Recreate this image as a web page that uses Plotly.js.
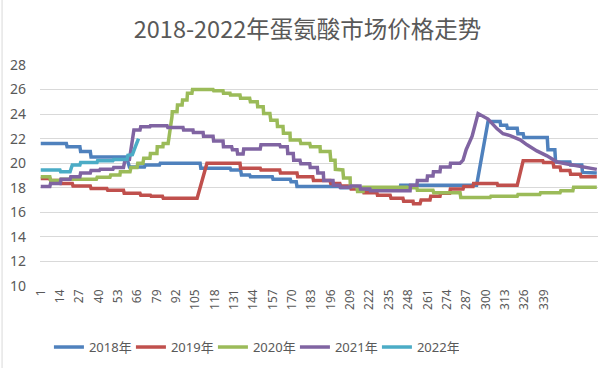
<!DOCTYPE html>
<html><head><meta charset="utf-8">
<script src="https://cdn.plot.ly/plotly-3.0.1.min.js"></script>
<style>html,body{margin:0;padding:0;background:#fff;}#chart{position:absolute;left:0;top:0;width:615px;height:374px;}</style>
</head><body><div id="chart"></div>
<script>
const seriesNames = ['2018年','2019年','2020年','2021年','2022年'];
const colors = ['#4F81BD','#C0504D','#9BBB59','#8064A2','#4BACC6'];
const tickDays = [1,14,27,40,53,66,79,92,105,118,131,144,157,170,183,196,209,222,235,248,261,274,287,300,313,326,339];

const day2018 = [1,18.2,18.7,27.3,27.8,34.3,34.8,58.6,60.6,70.7,71.2,80.8,81.3,108.1,108.6,128.3,128.8,135.3,135.9,141.4,141.9,156.6,157.1,168.7,169.2,172.7,173.2,202,202.5,215.1,215.7,242.4,242.9,293.9,301.6,309.7,310.1,314.1,314.6,321.2,321.7,325.2,325.7,341.4,341.9,346.5,347,356.6,357.1,364.6,365.1,374.7];
const val2018 = [21.6,21.6,21.35,21.35,20.95,20.95,20.5,20.5,19.7,19.7,19.85,19.85,20.0,20.0,19.6,19.6,19.45,19.45,19.05,19.05,18.9,18.9,18.7,18.7,18.5,18.5,18.1,18.1,18.0,18.0,17.85,17.85,18.2,18.2,23.4,23.4,23.1,23.1,22.85,22.85,22.4,22.4,22.1,22.1,21.1,21.1,20.1,20.1,19.85,19.85,19.25,19.2];

const day2019 = [1,7.1,7.6,14.1,14.6,22.2,22.7,34.3,34.8,45.4,46,56.6,57.1,67.7,68.2,74.7,75.2,82.8,83.3,106.1,112.7,134.9,135.3,148.5,149,161.6,162.1,173.2,173.7,183.8,184.3,195.4,195.9,202,202.5,209.1,209.6,217.6,218.2,226.9,227.3,235.8,236.4,244.4,244.9,251.2,251.5,255.9,256.6,262.6,263.1,269.3,269.7,275.8,276.3,284.8,285.3,291.5,291.9,307.7,308.1,321.2,325.2,338.4,338.9,345.3,345.8,350,350.5,356.6,357.1,363.6,364.1,374.7];
const val2019 = [18.75,18.75,18.6,18.6,18.35,18.35,18.15,18.15,17.95,17.95,17.8,17.8,17.55,17.55,17.4,17.4,17.3,17.3,17.15,17.15,20.0,20.0,19.6,19.6,19.45,19.45,19.2,19.2,18.9,18.9,18.6,18.6,18.35,18.35,18.15,18.15,17.9,17.9,17.6,17.6,17.4,17.4,17.15,17.15,16.9,16.9,16.7,16.7,17.0,17.0,17.3,17.3,17.55,17.55,17.9,17.9,18.1,18.1,18.35,18.35,18.2,18.2,20.2,20.2,20.05,20.05,19.7,19.7,19.4,19.4,19.1,19.1,18.9,18.9];

const day2020 = [1,7.1,7.6,14.1,14.6,38.4,38.9,47.5,48,54.2,54.5,61,61.6,65.7,66.2,69.7,70.2,74.4,74.7,79.1,79.3,83.1,83.3,86.6,89.2,89.4,92.6,92.9,96,96.3,99.3,99.6,102.6,103,116.8,117.2,123.5,123.8,128.2,128.5,134.9,135.3,141.4,141.9,146.5,146.8,150.5,150.8,155,155.6,159.8,160.1,163.8,164.1,168.5,168.7,175.2,175.8,181.8,182.3,188.7,188.9,195.4,195.9,198.8,199,204,204.5,208.9,209.1,213.5,213.9,217.6,218,247.2,247.5,253.8,254.1,264.6,265.1,282.8,283.3,303,303.5,321.2,321.7,336.4,336.9,350,350.5,358.6,359.1,374.7];
const val2020 = [18.9,18.9,18.6,18.6,18.7,18.7,18.85,18.85,19.05,19.05,19.3,19.3,19.65,19.65,20.0,20.0,20.4,20.4,20.8,20.8,21.35,21.35,21.6,21.6,23.8,24.2,24.2,24.75,24.75,25.15,25.15,25.7,25.7,26.0,26.0,25.9,25.9,25.7,25.7,25.55,25.55,25.3,25.3,25.0,25.0,24.6,24.6,24.05,24.05,23.5,23.5,23.0,23.0,22.45,22.45,21.9,21.9,21.6,21.6,21.35,21.35,20.95,20.95,20.25,20.25,19.5,19.45,18.8,18.8,18.1,18.1,17.7,17.7,18.05,18.05,18.0,18.0,17.8,17.8,17.6,17.6,17.2,17.2,17.3,17.3,17.45,17.45,17.6,17.6,17.75,17.75,18.05,18.05];

const day2021 = [1,7.1,7.6,14.1,14.6,20.7,21.2,27.3,27.8,34.3,34.8,40.4,40.9,49.5,50,56.6,57.6,60.6,62.6,63.6,67.7,68.2,74.4,74.7,85.9,86.4,96.6,97,103.3,103.6,110.1,110.4,116.8,117.2,123.5,123.8,129.3,129.8,132.9,133.3,137,137.4,148.5,149,161.6,162.1,166.7,167,170.7,171,175.2,175.8,181.8,182.1,186.9,187.2,190.9,191.2,197.4,197.7,202,202.3,209.1,209.4,215.6,215.9,222.2,222.5,249.2,249.5,253.8,254.1,260.6,260.9,264.6,264.9,269.3,269.7,276.1,276.4,282.8,284.8,286.9,290.9,294.9,297.6,301.6,307.7,311.7,316.4,323.2,327.8,334.4,341.2,348,356.6,365.5,374.7];
const val2021 = [18.1,18.1,18.35,18.35,18.7,18.7,18.9,18.9,19.2,19.2,19.4,19.4,19.5,19.5,19.65,19.65,20.25,20.3,21.9,22.7,22.7,22.98,22.98,23.05,23.05,22.9,22.9,22.7,22.7,22.5,22.5,22.2,22.2,21.8,21.8,21.35,21.35,21.1,21.1,20.75,20.75,21.15,21.15,21.5,21.5,21.35,21.35,20.8,20.8,20.25,20.25,19.95,19.95,19.65,19.65,19.2,19.2,18.6,18.6,18.2,18.2,18.05,18.05,18.15,18.15,17.9,17.9,17.75,17.75,18.2,18.2,18.6,18.6,18.95,18.95,19.3,19.3,19.7,19.7,20.0,20.0,20.25,21.1,22.2,24.05,23.9,23.6,22.8,22.4,22.25,21.9,21.5,21.0,20.6,20.1,19.9,19.7,19.5];

const day2022 = [1,13.9,14.4,20.7,22.2,27.3,27.8,38.8,39.2,49.5,50,59,59.6,62.6,64.6,66.7];
const val2022 = [19.45,19.45,19.3,19.3,19.85,19.85,20.05,20.05,20.2,20.2,20.3,20.3,20.65,20.7,21.35,22.0];

const days = [day2018, day2019, day2020, day2021, day2022];
const vals = [val2018, val2019, val2020, val2021, val2022];

const fam = 'Noto Sans, Noto Sans CJK SC, sans-serif';
const traces = seriesNames.map((n, i) => ({
  type: 'scatter', mode: 'lines', name: n,
  x: days[i], y: vals[i],
  line: {color: colors[i], width: 3.5, shape: 'linear'}
}));

const layout = {
  width: 615, height: 374,
  margin: {l: 40, r: 17, t: 65, b: 88},
  paper_bgcolor: '#fff', plot_bgcolor: '#fff',
  title: {text: '2018-2022年蛋氨酸市场价格走势', x: 0.5, xanchor: 'center', xref: 'container', y: 0.92, yanchor: 'middle',
          font: {family: 'Noto Sans CJK SC, sans-serif', size: 23.5, color: '#595959'}},
  xaxis: {type: 'linear', range: [0.5, 375.5], tickmode: 'array', tickvals: tickDays, ticktext: tickDays.map(String),
          tickangle: -90, showgrid: false, zeroline: false, showline: false, automargin: false,
          tickfont: {family: fam, size: 12, color: '#595959'}},
  yaxis: {range: [10, 28], dtick: 2, tick0: 10, showgrid: true, gridcolor: '#d9d9d9', gridwidth: 1,
          zeroline: false, showline: false, ticklabelstandoff: 13,
          tickfont: {family: fam, size: 14, color: '#595959'}},
  showlegend: true,
  legend: {orientation: 'h', x: 0.016, xanchor: 'left', y: 0.072, yref: 'container', yanchor: 'middle',
           entrywidth: 37, entrywidthmode: 'pixels', traceorder: 'normal',
           font: {family: fam, size: 13, color: '#595959'}},
  annotations: [{text: '饲料巴巴', xref: 'paper', yref: 'container', x: 1.0, xanchor: 'right', y: 0.072, yanchor: 'middle',
                 showarrow: false, font: {family: 'Noto Sans CJK SC, sans-serif', size: 14, color: '#7f7f7f'},
                 bgcolor: 'rgba(255,255,255,0.6)'}],
  shapes: [{type: 'line', xref: 'paper', yref: 'paper', x0: -0.068, x1: -0.068, y0: -0.371, y1: 1.294,
            line: {color: '#d9d9d9', width: 1}}]
};
Plotly.newPlot('chart', traces, layout, {displayModeBar: false, staticPlot: true});
</script></body></html>
